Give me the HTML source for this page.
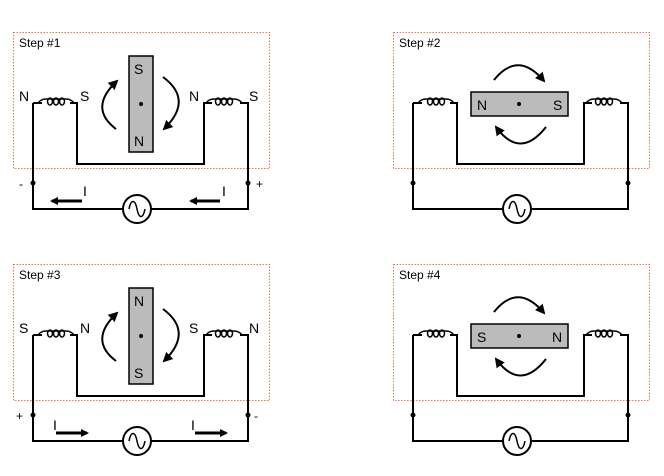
<!DOCTYPE html>
<html><head><style>html,body{margin:0;padding:0;background:#fff}svg{display:block}</style></head><body>
<svg width="664" height="476" viewBox="0 0 664 476" xmlns="http://www.w3.org/2000/svg" font-family="Liberation Sans, sans-serif">
<defs>
<marker id="ah" markerWidth="8" markerHeight="8" refX="6" refY="4" orient="auto" markerUnits="userSpaceOnUse" viewBox="0 0 8 8"><path d="M0,0 L8,4 L0,8 z" fill="#000"/></marker>
<marker id="ah2" markerWidth="10" markerHeight="10" refX="8" refY="5" orient="auto" markerUnits="userSpaceOnUse" viewBox="0 0 10 10"><path d="M0,0 L10,5 L0,10 z" fill="#000"/></marker>
<g id="coil" fill="none" stroke="#000" stroke-width="1.5">
<path d="M0,0 Q3,-4 8,-4 M28,-4 Q33,-4 36,0"/>
<path d="M8,-4 H28"/>
<ellipse cx="12" cy="-1.5" rx="2.5" ry="3.5"/>
<ellipse cx="18" cy="-1.5" rx="2.5" ry="3.5"/>
<ellipse cx="24" cy="-1.5" rx="2.5" ry="3.5"/>
</g>
<g id="circ" fill="none" stroke="#000" stroke-width="2">
<path d="M33,103 V209 H123 M151,209 H248 V103 H240 M212,103 H204 V164 H77 V103 H70 M42,103 H33"/>
<circle cx="137" cy="209" r="14"/>
<path d="M129,209 C131,199 135,199 137,209 C139,219 143,219 145,209" stroke-width="1.5"/>
</g>
</defs>
<g fill="none" stroke="#f07050" stroke-width="1" stroke-dasharray="1.5,1.5">
<rect x="13.5" y="32.5" width="256" height="136"/>
<rect x="393.5" y="32.5" width="256" height="136"/>
<rect x="13.5" y="264.5" width="256" height="136"/>
<rect x="393.5" y="264.5" width="256" height="136"/>
</g>
<g font-size="12" fill="#000">
<text x="19" y="47">Step #1</text><text x="399" y="47">Step #2</text>
<text x="19" y="279">Step #3</text><text x="399" y="279">Step #4</text>
</g>
<!-- Step1 -->
<use href="#circ"/>
<use href="#coil" x="38" y="103"/><use href="#coil" x="206" y="103"/>
<circle cx="33" cy="183" r="2.5"/><circle cx="248" cy="183" r="2.5"/>
<rect x="129" y="56" width="24" height="96" fill="#bbb" stroke="#000" stroke-width="1.5"/>
<circle cx="141" cy="104" r="2"/>
<g font-size="14"><text x="134" y="74">S</text><text x="134" y="146">N</text>
<text x="19" y="101">N</text><text x="80" y="101">S</text><text x="189" y="101">N</text><text x="249" y="101">S</text>
<text x="19" y="188" font-size="12">-</text><text x="256" y="188" font-size="12">+</text>
<text x="83" y="196">I</text><text x="222" y="196">I</text></g>
<g fill="none" stroke="#000" stroke-width="2">
<path d="M116,129 Q88,108 117,81" marker-end="url(#ah2)"/>
<path d="M163,77 Q194,100 164,129" marker-end="url(#ah2)"/>
<path d="M82,201 H52" marker-end="url(#ah)" stroke-width="3"/>
<path d="M220,201 H191" marker-end="url(#ah)" stroke-width="3"/>
</g>
<!-- Step2 -->
<use href="#circ" x="380"/>
<use href="#coil" x="418" y="103"/><use href="#coil" x="586" y="103"/>
<circle cx="413" cy="183" r="2.5"/><circle cx="628" cy="183" r="2.5"/>
<rect x="471" y="92" width="97" height="24" fill="#bbb" stroke="#000" stroke-width="1.5"/>
<circle cx="519" cy="104" r="2"/>
<g font-size="14"><text x="477" y="110">N</text><text x="553" y="110">S</text></g>
<g fill="none" stroke="#000" stroke-width="2">
<path d="M494,80 Q518,50 544,81" marker-end="url(#ah2)"/>
<path d="M546,127 Q520,160 496,127" marker-end="url(#ah2)"/>
</g>
<!-- Step3 -->
<g transform="translate(0,232)">
<use href="#circ"/>
<use href="#coil" x="38" y="103"/><use href="#coil" x="206" y="103"/>
<circle cx="33" cy="183" r="2.5"/><circle cx="248" cy="183" r="2.5"/>
<rect x="129" y="56" width="24" height="96" fill="#bbb" stroke="#000" stroke-width="1.5"/>
<circle cx="141" cy="104" r="2"/>
<g font-size="14"><text x="134" y="74">N</text><text x="134" y="146">S</text>
<text x="19" y="101">S</text><text x="80" y="101">N</text><text x="189" y="101">S</text><text x="249" y="101">N</text>
<text x="16" y="188" font-size="12">+</text><text x="254" y="188" font-size="12">-</text>
<text x="53" y="198">I</text><text x="191" y="198">I</text></g>
<g fill="none" stroke="#000" stroke-width="2">
<path d="M116,129 Q88,108 117,81" marker-end="url(#ah2)"/>
<path d="M163,77 Q194,100 164,129" marker-end="url(#ah2)"/>
<path d="M56,201 H87" marker-end="url(#ah)" stroke-width="3"/>
<path d="M195,201 H226" marker-end="url(#ah)" stroke-width="3"/>
</g>
</g>
<!-- Step4 -->
<g transform="translate(0,232)">
<use href="#circ" x="380"/>
<use href="#coil" x="418" y="103"/><use href="#coil" x="586" y="103"/>
<circle cx="413" cy="183" r="2.5"/><circle cx="628" cy="183" r="2.5"/>
<rect x="471" y="92" width="97" height="24" fill="#bbb" stroke="#000" stroke-width="1.5"/>
<circle cx="519" cy="104" r="2"/>
<g font-size="14"><text x="477" y="110">S</text><text x="552" y="110">N</text></g>
<g fill="none" stroke="#000" stroke-width="2">
<path d="M494,80 Q518,50 544,81" marker-end="url(#ah2)"/>
<path d="M546,127 Q520,160 496,127" marker-end="url(#ah2)"/>
</g>
</g>
</svg>
</body></html>
